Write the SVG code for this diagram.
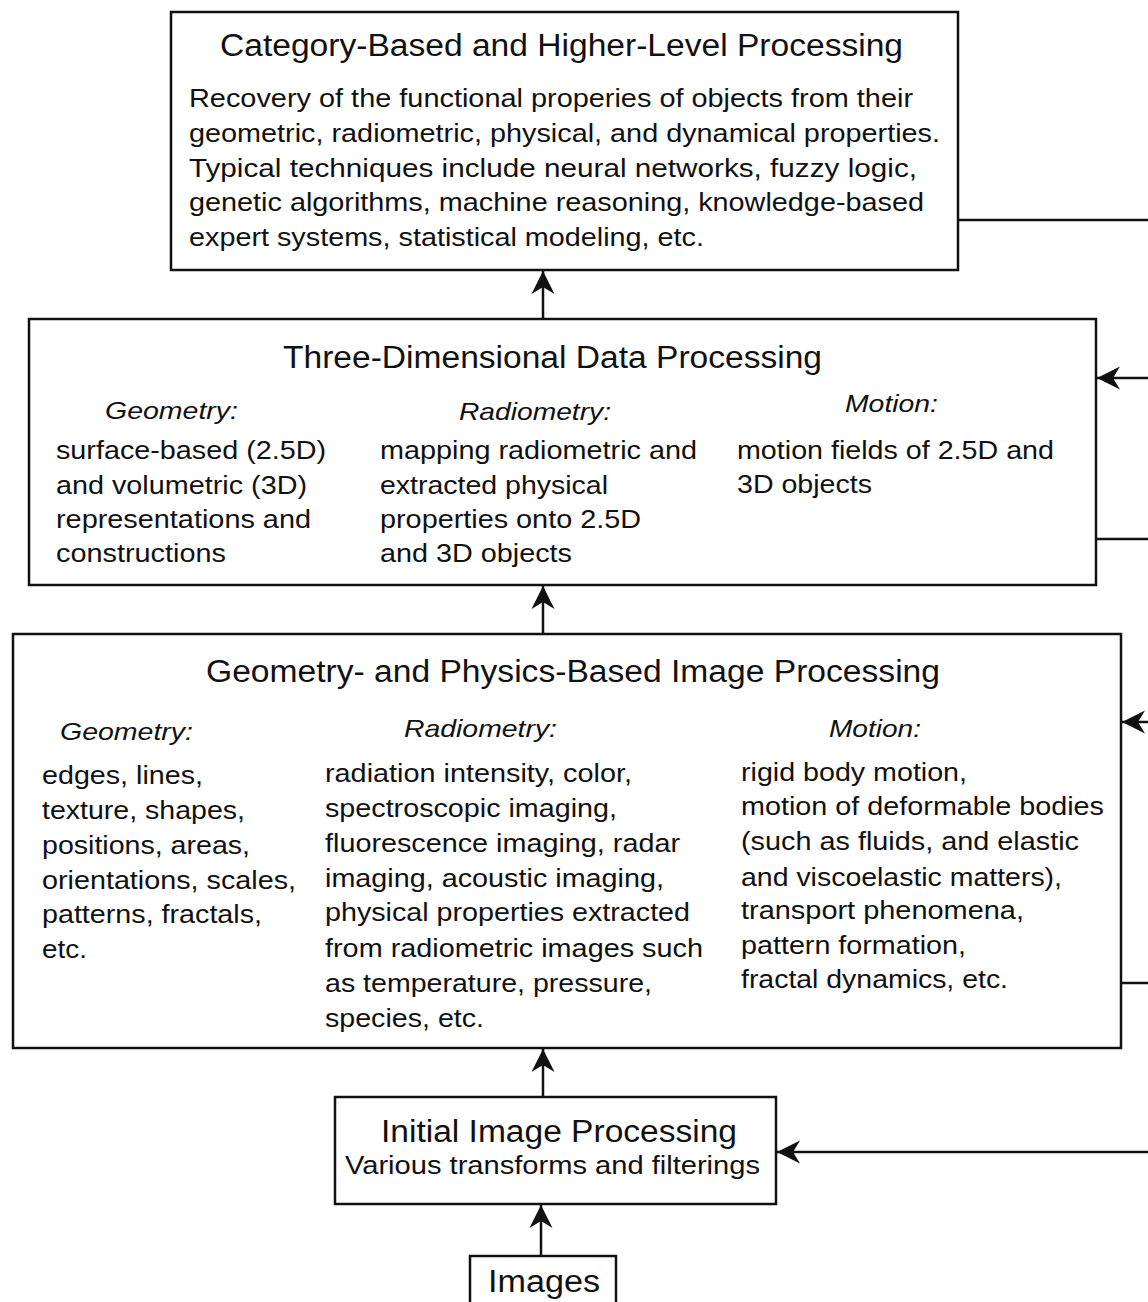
<svg xmlns="http://www.w3.org/2000/svg" width="1148" height="1302" viewBox="0 0 1148 1302">
<style>
  .box { fill: #fff; stroke: #111; stroke-width: 2.5; }
  text { font-family: "Liberation Sans", Arial, sans-serif; fill: #111; }
  .title { font-size: 31px; }
  .body { font-size: 25px; }
  .sub { font-size: 24px; font-style: italic; }
  .conn { fill: none; stroke: #111; stroke-width: 2.5; }
</style>
<defs>
  <marker id="arr" markerUnits="userSpaceOnUse" viewBox="-24 -12 25 24" markerWidth="25" markerHeight="24" refX="0" refY="0" orient="auto">
    <path d="M0,0 L-23,-11.5 L-16,0 L-23,11.5 Z" fill="#111"/>
  </marker>
</defs>
<rect width="1148" height="1302" fill="#fff"/>

<g id="connectors">
  <line class="conn" x1="958" y1="220" x2="1148" y2="220"/>
  <line class="conn" x1="1148" y1="378" x2="1097" y2="378" marker-end="url(#arr)"/>
  <line class="conn" x1="1096" y1="539" x2="1148" y2="539"/>
  <line class="conn" x1="1148" y1="722" x2="1122" y2="722" marker-end="url(#arr)"/>
  <line class="conn" x1="1121" y1="983" x2="1148" y2="983"/>
  <line class="conn" x1="1148" y1="1152" x2="777" y2="1152" marker-end="url(#arr)"/>
  <line class="conn" x1="543" y1="319" x2="543" y2="271" marker-end="url(#arr)"/>
  <line class="conn" x1="543" y1="634" x2="543" y2="586" marker-end="url(#arr)"/>
  <line class="conn" x1="543" y1="1097" x2="543" y2="1049" marker-end="url(#arr)"/>
  <line class="conn" x1="541" y1="1256" x2="541" y2="1205" marker-end="url(#arr)"/>
</g>

<g id="node-category">
  <rect class="box" x="171" y="12" width="787" height="258"/>
  <text class="title" x="220" y="56" textLength="683" lengthAdjust="spacingAndGlyphs">Category-Based and Higher-Level Processing</text>
  <text class="body" x="189" y="107" textLength="724" lengthAdjust="spacingAndGlyphs">Recovery of the functional properies of objects from their</text>
  <text class="body" x="189" y="142" textLength="751" lengthAdjust="spacingAndGlyphs">geometric, radiometric, physical, and dynamical properties.</text>
  <text class="body" x="189" y="177" textLength="728" lengthAdjust="spacingAndGlyphs">Typical techniques include neural networks, fuzzy logic,</text>
  <text class="body" x="189" y="211" textLength="735" lengthAdjust="spacingAndGlyphs">genetic algorithms, machine reasoning, knowledge-based</text>
  <text class="body" x="189" y="246" textLength="515" lengthAdjust="spacingAndGlyphs">expert systems, statistical modeling, etc.</text>
</g>

<g id="node-3d">
  <rect class="box" x="29" y="319" width="1067" height="266"/>
  <text class="title" x="283" y="368" textLength="539" lengthAdjust="spacingAndGlyphs">Three-Dimensional Data Processing</text>
  <text class="sub" x="105" y="419" textLength="133" lengthAdjust="spacingAndGlyphs">Geometry:</text>
  <text class="sub" x="459" y="420" textLength="152" lengthAdjust="spacingAndGlyphs">Radiometry:</text>
  <text class="sub" x="845" y="412" textLength="93" lengthAdjust="spacingAndGlyphs">Motion:</text>
  <text class="body" x="56" y="459" textLength="270" lengthAdjust="spacingAndGlyphs">surface-based (2.5D)</text>
  <text class="body" x="56" y="494" textLength="251" lengthAdjust="spacingAndGlyphs">and volumetric (3D)</text>
  <text class="body" x="56" y="528" textLength="255" lengthAdjust="spacingAndGlyphs">representations and</text>
  <text class="body" x="56" y="562" textLength="170" lengthAdjust="spacingAndGlyphs">constructions</text>
  <text class="body" x="380" y="459" textLength="317" lengthAdjust="spacingAndGlyphs">mapping radiometric and</text>
  <text class="body" x="380" y="494" textLength="228" lengthAdjust="spacingAndGlyphs">extracted physical</text>
  <text class="body" x="380" y="528" textLength="261" lengthAdjust="spacingAndGlyphs">properties onto 2.5D</text>
  <text class="body" x="380" y="562" textLength="192" lengthAdjust="spacingAndGlyphs">and 3D objects</text>
  <text class="body" x="737" y="459" textLength="317" lengthAdjust="spacingAndGlyphs">motion fields of 2.5D and</text>
  <text class="body" x="737" y="493" textLength="135" lengthAdjust="spacingAndGlyphs">3D objects</text>
</g>

<g id="node-geometry-physics">
  <rect class="box" x="13" y="634" width="1108" height="414"/>
  <text class="title" x="206" y="682" textLength="734" lengthAdjust="spacingAndGlyphs">Geometry- and Physics-Based Image Processing</text>
  <text class="sub" x="60" y="740" textLength="133" lengthAdjust="spacingAndGlyphs">Geometry:</text>
  <text class="sub" x="404" y="737" textLength="153" lengthAdjust="spacingAndGlyphs">Radiometry:</text>
  <text class="sub" x="829" y="737" textLength="92" lengthAdjust="spacingAndGlyphs">Motion:</text>
  <text class="body" x="42" y="784" textLength="161" lengthAdjust="spacingAndGlyphs">edges, lines,</text>
  <text class="body" x="42" y="819" textLength="203" lengthAdjust="spacingAndGlyphs">texture, shapes,</text>
  <text class="body" x="42" y="854" textLength="208" lengthAdjust="spacingAndGlyphs">positions, areas,</text>
  <text class="body" x="42" y="889" textLength="254" lengthAdjust="spacingAndGlyphs">orientations, scales,</text>
  <text class="body" x="42" y="923" textLength="220" lengthAdjust="spacingAndGlyphs">patterns, fractals,</text>
  <text class="body" x="42" y="958" textLength="45" lengthAdjust="spacingAndGlyphs">etc.</text>
  <text class="body" x="325" y="782" textLength="307" lengthAdjust="spacingAndGlyphs">radiation intensity, color,</text>
  <text class="body" x="325" y="817" textLength="292" lengthAdjust="spacingAndGlyphs">spectroscopic imaging,</text>
  <text class="body" x="325" y="852" textLength="355" lengthAdjust="spacingAndGlyphs">fluorescence imaging, radar</text>
  <text class="body" x="325" y="887" textLength="339" lengthAdjust="spacingAndGlyphs">imaging, acoustic imaging,</text>
  <text class="body" x="325" y="921" textLength="365" lengthAdjust="spacingAndGlyphs">physical properties extracted</text>
  <text class="body" x="325" y="957" textLength="378" lengthAdjust="spacingAndGlyphs">from radiometric images such</text>
  <text class="body" x="325" y="992" textLength="327" lengthAdjust="spacingAndGlyphs">as temperature, pressure,</text>
  <text class="body" x="325" y="1027" textLength="159" lengthAdjust="spacingAndGlyphs">species, etc.</text>
  <text class="body" x="741" y="781" textLength="226" lengthAdjust="spacingAndGlyphs">rigid body motion,</text>
  <text class="body" x="741" y="815" textLength="363" lengthAdjust="spacingAndGlyphs">motion of deformable bodies</text>
  <text class="body" x="741" y="850" textLength="338" lengthAdjust="spacingAndGlyphs">(such as fluids, and elastic</text>
  <text class="body" x="741" y="886" textLength="321" lengthAdjust="spacingAndGlyphs">and viscoelastic matters),</text>
  <text class="body" x="741" y="919" textLength="283" lengthAdjust="spacingAndGlyphs">transport phenomena,</text>
  <text class="body" x="741" y="954" textLength="225" lengthAdjust="spacingAndGlyphs">pattern formation,</text>
  <text class="body" x="741" y="988" textLength="267" lengthAdjust="spacingAndGlyphs">fractal dynamics, etc.</text>
</g>

<g id="node-initial">
  <rect class="box" x="335" y="1097" width="441" height="107"/>
  <text class="title" x="381" y="1142" font-size="29" textLength="356" lengthAdjust="spacingAndGlyphs">Initial Image Processing</text>
  <text class="body" x="345" y="1174" textLength="415" lengthAdjust="spacingAndGlyphs">Various transforms and filterings</text>
</g>

<g id="node-images">
  <rect class="box" x="470" y="1256" width="146" height="60"/>
  <text class="title" x="488" y="1292" textLength="112" lengthAdjust="spacingAndGlyphs">Images</text>
</g>
</svg>
